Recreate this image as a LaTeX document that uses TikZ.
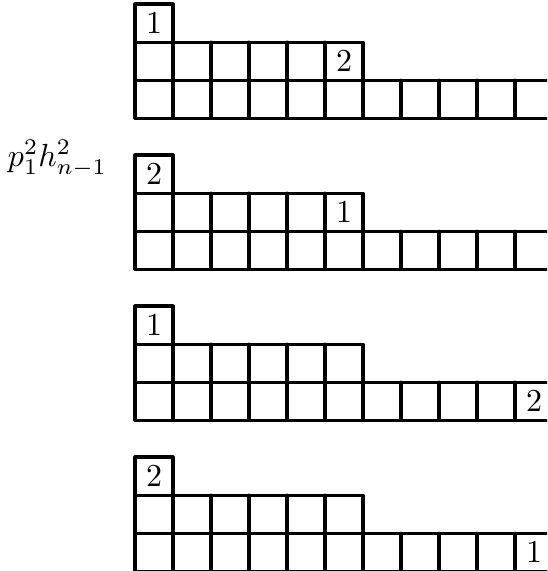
\documentclass[tikz,border=0pt]{standalone}
\begin{document}
\begin{tikzpicture}[x=0.3125pt,y=-0.3125pt,
  grid/.style={line width=0.95pt,line join=round,line cap=round},
  num/.style={inner sep=0pt,font=\normalsize}]
\useasboundingbox (0,0) rectangle (547,571);
\clip (0,0) rectangle (547,571);
\def\cw{38}
\def\ch{38.1}
\foreach \d/\top/\a/\b/\bc/\br in {1/4/1/2/6/1, 2/155/2/1/6/1, 3/306/1/2/11/2, 4/457/2/1/11/2}{
  \begin{scope}[shift={(135,\top)}]
    \draw[grid] (0,3*\ch) -- (0,0) -- (\cw,0) -- (\cw,\ch);
    \draw[grid] (0,\ch) -- (6*\cw,\ch) -- (6*\cw,2*\ch);
    \draw[grid] (0,2*\ch) -- (12*\cw,2*\ch);
    \draw[grid] (0,3*\ch) -- (12*\cw,3*\ch);
    \foreach \i in {1,...,5} \draw[grid] (\i*\cw,\ch) -- (\i*\cw,3*\ch);
    \foreach \i in {6,...,11} \draw[grid] (\i*\cw,2*\ch) -- (\i*\cw,3*\ch);
    \node[num] (t\d) at (0.5*\cw,0.5*\ch) {\a};
    \node[num] (s\d) at (\bc*\cw-0.5*\cw,\br*\ch+0.5*\ch) {\b};
  \end{scope}
}
\node[anchor=base,inner sep=0pt] (lab) at (57.5,166.5) {$p_1^2h_{n-1}^2$};
\end{tikzpicture}
\end{document}
